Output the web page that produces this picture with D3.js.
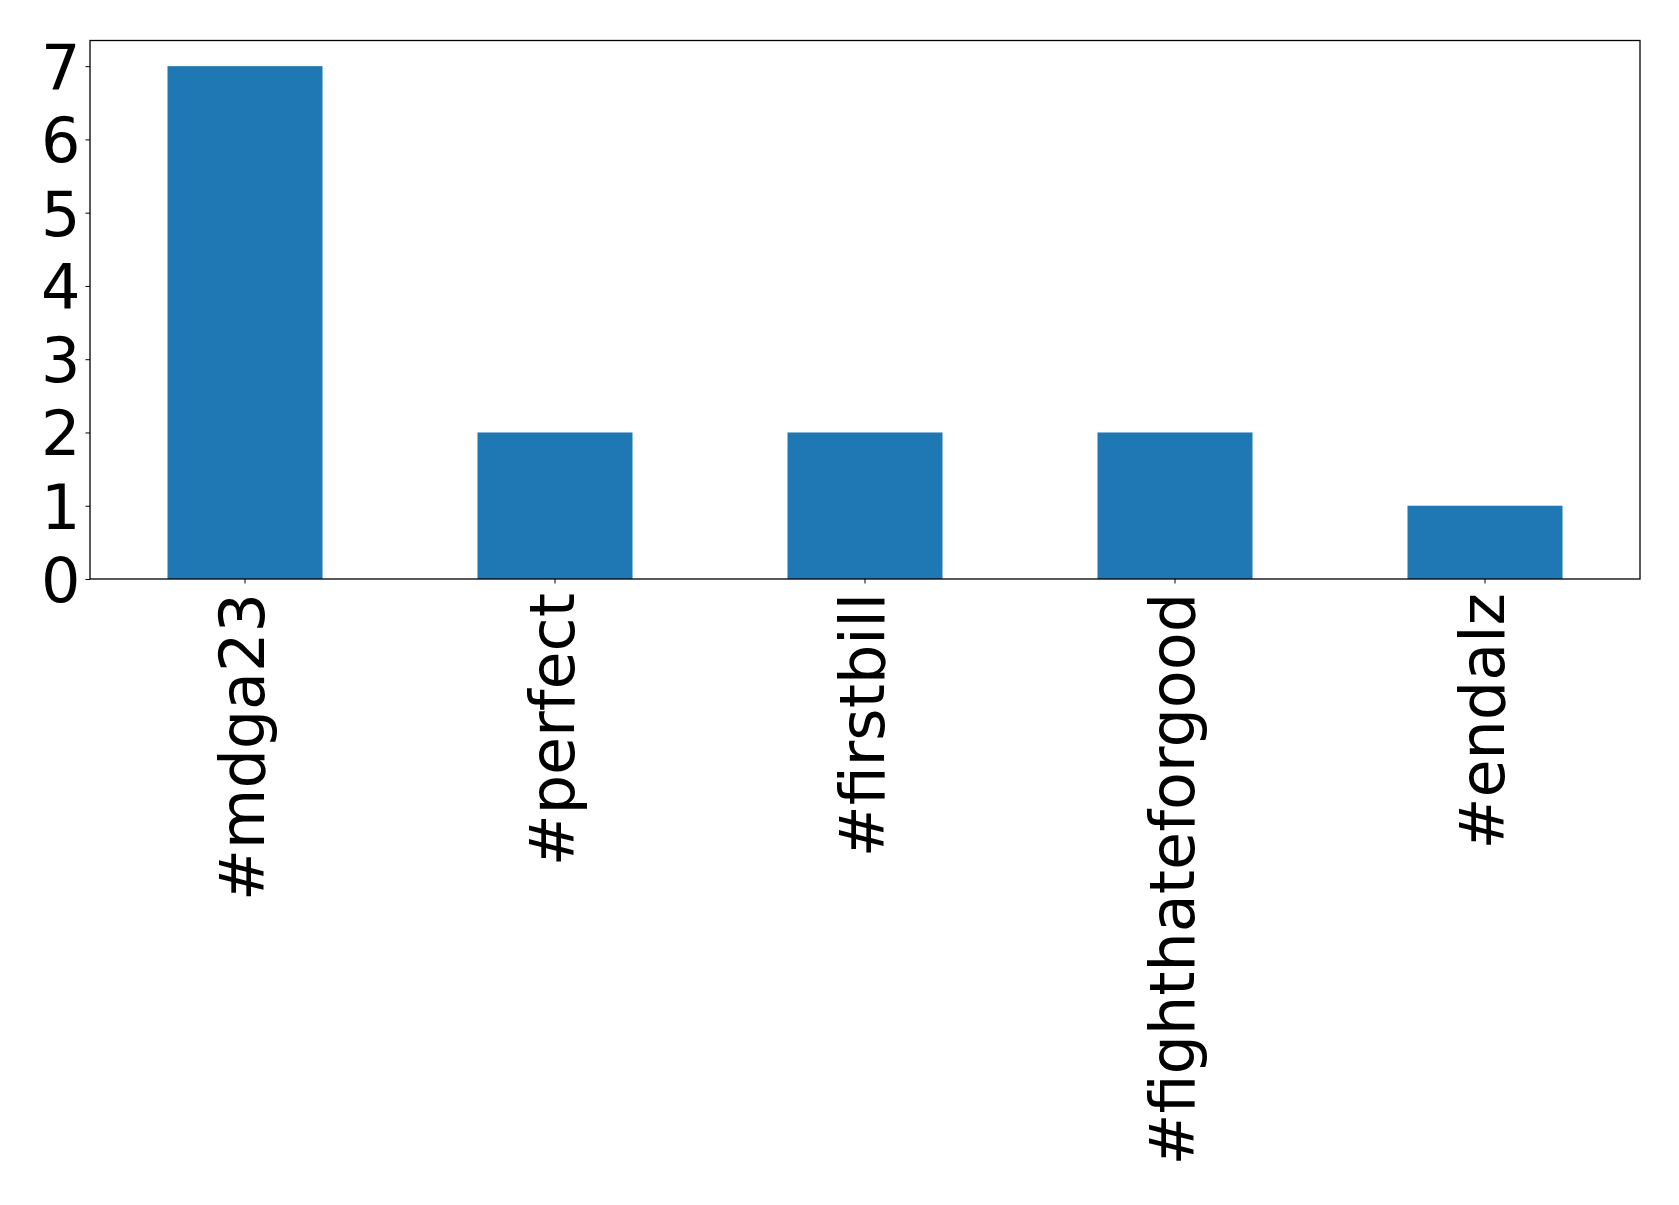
<!DOCTYPE html>
<html><head><meta charset="utf-8">
<script src="https://cdn.jsdelivr.net/npm/d3@7"></script>
<style>body{margin:0;background:#fff}svg{display:block}text{font-family:"DejaVu Sans",sans-serif}</style>
</head><body>
<script>
const categories = ["#mdga23", "#perfect", "#firstbill", "#fighthateforgood", "#endalz"];
const counts = [7, 2, 2, 2, 1];
const yTicks = [0, 1, 2, 3, 4, 5, 6, 7];

const W = 1679, H = 1205;
const m = {left: 90, right: 1640, top: 40.5, bottom: 579};
const svg = d3.select("body").append("svg").attr("width", W).attr("height", H);

const x = d3.scaleBand().domain(categories).range([m.left, m.right]).paddingInner(0.5).paddingOuter(0.25);
const y = d3.scaleLinear().domain([0, 7.35]).range([m.bottom, m.top]);

svg.append("g").selectAll("rect").data(categories).join("rect")
  .attr("x", d => x(d)).attr("width", x.bandwidth())
  .attr("y", (d, i) => y(counts[i])).attr("height", (d, i) => y(0) - y(counts[i]))
  .attr("fill", "#1f77b4");

const fs = 62;
const ya = svg.append("g").attr("transform", `translate(${m.left},0)`)
  .call(d3.axisLeft(y).tickValues(yTicks).tickFormat(d3.format("d")).tickSize(4.5).tickPadding(5));
ya.select(".domain").remove();
ya.selectAll("text").attr("font-size", fs).attr("fill", "#000").attr("dy", "0.36em");
ya.selectAll("line").attr("stroke", "#000");

const xa = svg.append("g").attr("transform", `translate(0,${m.bottom})`)
  .call(d3.axisBottom(x).tickSize(4.5).tickPadding(0));
xa.select(".domain").remove();
xa.selectAll("line").attr("stroke", "#000");
xa.selectAll("text")
  .attr("font-size", fs).attr("fill", "#000")
  .attr("text-anchor", "end")
  .attr("transform", "translate(0,14) rotate(-90)")
  .attr("x", 0).attr("y", 0).attr("dy", "0.31em");

svg.append("rect").attr("x", m.left).attr("y", m.top)
  .attr("width", m.right - m.left).attr("height", m.bottom - m.top)
  .attr("fill", "none").attr("stroke", "#000").attr("stroke-width", 1.3);
</script>
</body></html>
